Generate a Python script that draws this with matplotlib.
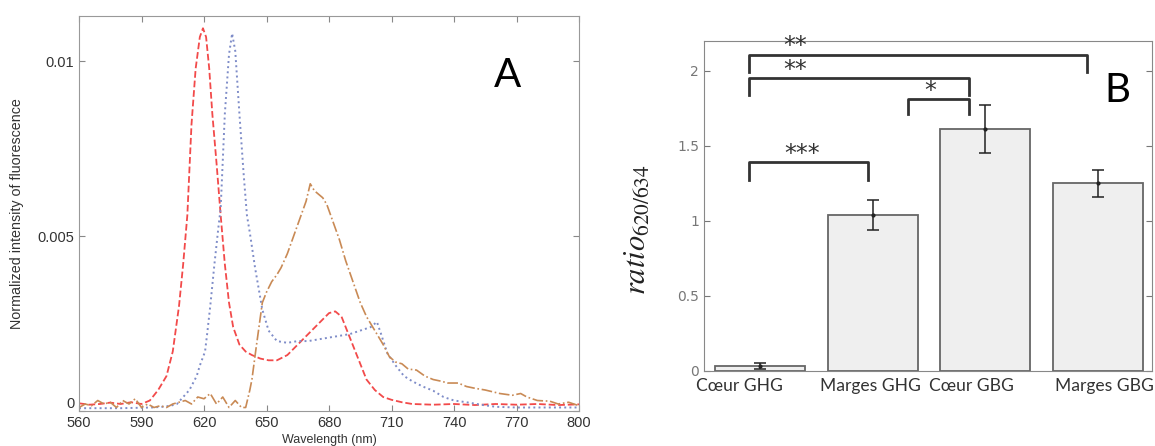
import numpy as np
import matplotlib
matplotlib.use("Agg")
import matplotlib.pyplot as plt
import matplotlib.transforms as mtransforms

plt.rcParams['mathtext.fontset'] = 'stix'

# ---- panel A : spectres de fluorescence ----
wl_red = [560, 565, 570, 575, 580, 585, 590, 594, 598, 602, 605, 608, 610, 612, 614, 616,
          618, 619.5, 621, 622.5, 624, 626, 628, 630, 632, 634, 637, 640, 643, 647, 651, 655,
          660, 665, 670, 675, 680, 683, 686, 690, 694, 698, 702, 706, 710, 715, 720, 730,
          740, 750, 760, 770, 780, 790, 800]
int_red = [0.00022, 0.00018, 0.0002, 0.00024, 0.0002, 0.00025, 0.0002, 0.0003, 0.0006, 0.001,
           0.0017, 0.003, 0.0042, 0.0056, 0.0082, 0.0098, 0.0107, 0.01095, 0.0107, 0.0098,
           0.0085, 0.0071, 0.0056, 0.0042, 0.0031, 0.0024, 0.0019, 0.0017, 0.0016, 0.0015,
           0.00145, 0.00145, 0.0016, 0.0019, 0.0022, 0.0025, 0.0028, 0.00285, 0.0027, 0.0021,
           0.0015, 0.0009, 0.0006, 0.0004, 0.00032, 0.00025, 0.0002, 0.00018, 0.0002, 0.00017,
           0.0002, 0.00018, 0.0002, 0.00017, 0.00019]

wl_blue = [560, 580, 595, 600, 604, 607, 610, 613, 616.5, 618, 620.5, 621.5, 623, 625, 627,
           628, 630, 632, 633.5, 635, 637, 639, 640.6, 642, 644.5, 648, 651, 655, 660, 665,
           670, 675, 680, 685, 690, 695, 700, 703, 705, 708, 712, 716, 720, 725, 730, 735,
           740, 746, 754, 760, 770, 780, 800]
int_blue = [0.00008, 0.00008, 0.0001, 0.00012, 0.00015, 0.0002, 0.0004, 0.0006, 0.001, 0.0013,
            0.0017, 0.0022, 0.003, 0.0042, 0.0053, 0.0058, 0.0085, 0.0102, 0.0108, 0.0103,
            0.0085, 0.0068, 0.0056, 0.0051, 0.0041, 0.0029, 0.0023, 0.002, 0.00195, 0.002,
            0.002, 0.00205, 0.0021, 0.00215, 0.0022, 0.0023, 0.0024, 0.00255, 0.0022, 0.00165,
            0.0013, 0.001, 0.00085, 0.0007, 0.00058, 0.0004, 0.0003, 0.00025, 0.00017, 0.00012,
            0.0001, 0.0001, 0.0001]

wl_orange = [560, 563, 566, 569, 572, 575, 578, 581, 584, 587, 590, 593, 596, 599, 602, 605,
             608, 611, 614, 617, 620, 623, 626, 629, 632, 635, 638, 640, 642, 643, 645, 648,
             650, 652.5, 655, 657, 660, 663, 666, 669, 671, 673, 675, 677, 679, 682, 685, 688,
             691.5, 695, 698, 700, 703, 706, 709, 712, 715, 718, 722, 726, 730, 734, 737, 742,
             746, 750, 755, 762, 768, 772, 775, 780, 786, 790, 795, 800]
int_orange = [0.0001, 0.0002, 0.00015, 0.0003, 0.0002, 0.00025, 0.0001, 0.0003, 0.0002, 0.00035,
              0.0001, 0.0002, 0.0001, 0.00015, 0.0001, 0.0002, 0.00025, 0.0003, 0.0002, 0.0004,
              0.00035, 0.0005, 0.0002, 0.0004, 0.0001, 0.0003, 0.0001, 0.0001, 0.0006, 0.0009,
              0.0018, 0.0031, 0.0034, 0.0037, 0.0039, 0.0041, 0.0045, 0.005, 0.0055, 0.006,
              0.0065, 0.0063, 0.0062, 0.0061, 0.0059, 0.0054, 0.0049, 0.0043, 0.0037, 0.0031,
              0.0027, 0.0025, 0.0022, 0.0019, 0.00155, 0.0014, 0.00135, 0.0012, 0.00117, 0.001,
              0.0009, 0.00085, 0.0008, 0.0008, 0.0007, 0.00065, 0.0006, 0.0005, 0.00045, 0.0005,
              0.0004, 0.0003, 0.00028, 0.0002, 0.00025, 0.00015]

# ---- panel B : ratio 620/634 ----
groupes = ['Cœur GHG', 'Marges GHG', 'Cœur GBG', 'Marges GBG']
ratio = [0.03, 1.04, 1.61, 1.25]
ratio_err = [0.02, 0.10, 0.16, 0.09]
pos_labels = [0.82, 1.98, 2.88, 4.06]   # étiquettes décalées comme dans l'original

# comparaisons : (x gauche, x droite, hauteur, bas jambe gauche, bas jambe droite, étoiles, x texte)
comparaisons = [
    (0.90, 3.90, 2.105, 1.99, 1.99, '**', 1.31),
    (0.90, 2.86, 1.95, 1.84, 1.84, '**', 1.31),
    (2.31, 2.86, 1.81, 1.71, 1.71, '*', 2.51),
    (0.90, 1.96, 1.39, 1.27, 1.27, '***', 1.37),
]

fig = plt.figure(figsize=(11.55, 4.46), dpi=100)

# ----- A -----
axA = fig.add_axes([0.0684, 0.0785, 0.4329, 0.8856])
axA.plot(wl_red, int_red, '--', color='#f24a4a', lw=1.3)
axA.plot(wl_blue, int_blue, ':', color='#7e8cc8', lw=1.4)
axA.plot(wl_orange, int_orange, '-.', color='#c98a55', lw=1.2)
axA.set_xlim(560, 800)
axA.set_ylim(0, 0.0113)
axA.set_xticks(np.arange(560, 801, 30))
axA.set_yticks([0, 0.005, 0.01])
axA.set_yticklabels(['0', '0.005', '0.01'])
axA.tick_params(direction='in', top=True, right=True, length=4, color='#888',
                labelsize=10.5, labelcolor='#333')
for lab in axA.get_xticklabels() + axA.get_yticklabels():
    lab.set_family('Liberation Sans')
# le "0" remonte un peu, comme dans la figure MATLAB
zero = axA.get_yticklabels()[0]
zero.set_transform(zero.get_transform() + mtransforms.ScaledTranslation(0, 6 / 72, fig.dpi_scale_trans))
for s in axA.spines.values():
    s.set_color('#999')
axA.set_xlabel('Wavelength (nm)', fontsize=9, color='#333', labelpad=3,
               family='Liberation Sans')
axA.set_ylabel('Normalized intensity of fluorescence', fontsize=10.3, color='#333',
               family='Liberation Sans')
axA.yaxis.set_label_coords(-0.11, 0.5)
axA.text(0.856, 0.85, 'A', transform=axA.transAxes, fontsize=29, family='Lato',
         ha='center', va='center')

# ----- B -----
axB = fig.add_axes([0.6095, 0.1682, 0.3879, 0.7399])
x = np.arange(1, len(groupes) + 1)
axB.bar(x, ratio, width=0.8, color='#efefef', edgecolor='#666', linewidth=1.3)
axB.errorbar(x, ratio, yerr=ratio_err, fmt='.', color='#222', ms=4,
             capsize=4, elinewidth=1.1, capthick=1.1)
for xg, xd, h, bg, bd, etoiles, xt in comparaisons:
    axB.plot([xg, xg, xd, xd], [bg, h, h, bd], color='#333', lw=2)
    axB.text(xt, h + 0.012, etoiles, fontsize=17, ha='center', va='baseline',
             color='#333', family='DejaVu Sans')
axB.set_xlim(0.503, 4.48)
axB.set_ylim(0, 2.2)
axB.set_yticks([0, 0.5, 1, 1.5, 2])
axB.set_yticklabels(['0', '0.5', '1', '1.5', '2'])
axB.set_xticks(pos_labels)
axB.set_xticklabels(groupes, family='Lato', fontsize=12.6, color='#333')
axB.tick_params(axis='x', length=0, pad=5)
axB.tick_params(axis='y', direction='in', right=True, length=4, color='#777',
                labelsize=10, labelcolor='#777')
for s in axB.spines.values():
    s.set_color('#888')
axB.set_ylabel(r'$ratio_{620/634}$', fontsize=22, color='#222')
axB.yaxis.set_label_coords(-0.116, 0.427)
axB.text(0.922, 0.85, 'B', transform=axB.transAxes, fontsize=29, family='Lato',
         ha='center', va='center')

fig.savefig('out.png', dpi=100)
